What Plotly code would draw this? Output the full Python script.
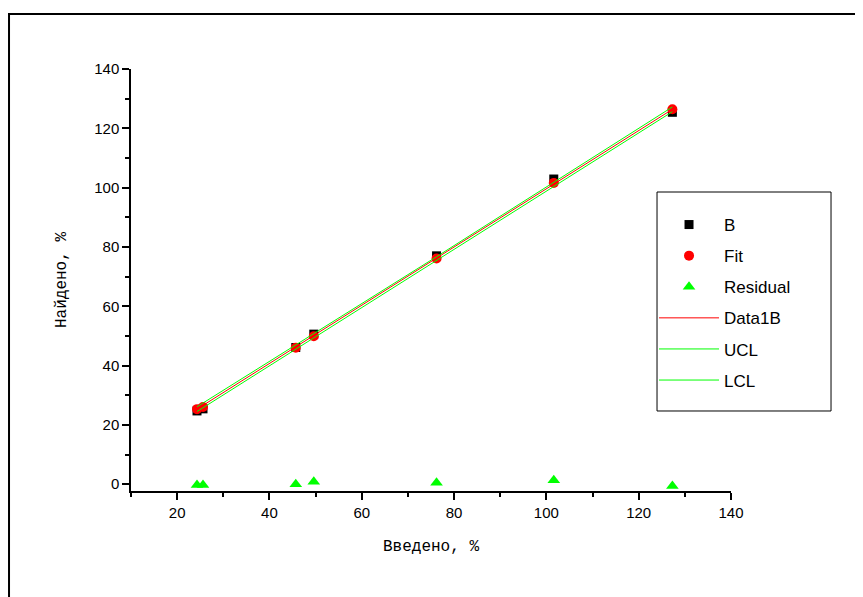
import plotly.graph_objects as go

# Data
x_vals = [24.3, 25.6, 45.7, 49.6, 76.2, 101.6, 127.3]
b_vals = [24.7, 25.4, 46.1, 50.6, 77.0, 102.9, 125.4]
fit_vals = [25.3, 26.0, 46.0, 49.9, 76.1, 101.6, 126.4]
resid_vals = [-0.3, -0.3, 0.0, 0.8, 0.5, 1.3, -0.6]

line_x = [24.3, 76.2, 127.3]
line_y = [25.3, 76.1, 126.4]
ucl_y = [26.1, 76.7, 127.2]
lcl_y = [24.5, 75.5, 125.6]

x_title = "Введено, %"
y_title = "Найдено, %"

fig = go.Figure()
fig.add_trace(go.Scatter(x=x_vals, y=b_vals, mode="markers", name="B", legendgroup="g1",
                         marker=dict(symbol="square", size=9, color="black")))
fig.add_trace(go.Scatter(x=x_vals, y=fit_vals, mode="markers", name="Fit", legendgroup="g2",
                         marker=dict(symbol="circle", size=10, color="#ff0000")))
fig.add_trace(go.Scatter(x=x_vals, y=resid_vals, mode="markers", name="Residual", legendgroup="g3",
                         marker=dict(symbol="triangle-up", size=11, color="#00ff00")))
fig.add_trace(go.Scatter(x=line_x, y=line_y, mode="lines", name="Data1B", legendgroup="g4",
                         line=dict(color="#ff0000", width=1)))
fig.add_trace(go.Scatter(x=line_x, y=ucl_y, mode="lines", name="UCL", legendgroup="g5",
                         line=dict(color="#00ff00", width=1)))
fig.add_trace(go.Scatter(x=line_x, y=lcl_y, mode="lines", name="LCL", legendgroup="g6",
                         line=dict(color="#00ff00", width=1)))

axis_common = dict(
    showgrid=False, zeroline=False, showline=True, linecolor="black", linewidth=1.5,
    ticks="outside", ticklen=7, tickwidth=1.5, tickcolor="black",
    tickfont=dict(family="Liberation Sans, Arial", size=15, color="black"),
    minor=dict(ticks="outside", ticklen=4, tickwidth=1.5, tickcolor="black", dtick=10),
)

fig.update_xaxes(range=[10, 140], tickmode="linear", tick0=20, dtick=20,
                 title=dict(text=x_title, font=dict(family="Courier New, Liberation Mono", size=16, color="black"),
                            standoff=20),
                 **axis_common)
fig.update_yaxes(range=[-2.3, 140], tickmode="linear", tick0=0, dtick=20,
                 title=dict(text=y_title, font=dict(family="Courier New, Liberation Mono", size=16, color="black"),
                            standoff=24),
                 **axis_common)

fig.update_layout(
    width=855, height=589,
    margin=dict(l=123, r=132, t=61, b=106, autoexpand=False),
    paper_bgcolor="white", plot_bgcolor="white",
    showlegend=True,
    legend=dict(x=0.8717, y=0.673, xanchor="left", yanchor="top",
                bgcolor="rgba(0,0,0,0)", borderwidth=0,
                font=dict(family="Liberation Sans, Arial", size=17, color="black"),
                tracegroupgap=6, traceorder="grouped", itemwidth=60),
    shapes=[
        dict(type="rect", xref="paper", yref="paper",
             x0=-0.2033, x1=1.4, y0=-0.5, y1=1.1303,
             line=dict(color="black", width=2), layer="below"),
        dict(type="rect", xref="paper", yref="paper",
             x0=0.8767, x1=1.1667, y0=0.1896, y1=0.7085,
             line=dict(color="black", width=1), fillcolor="white", layer="above"),
    ],
)

fig.write_html("out.html")
